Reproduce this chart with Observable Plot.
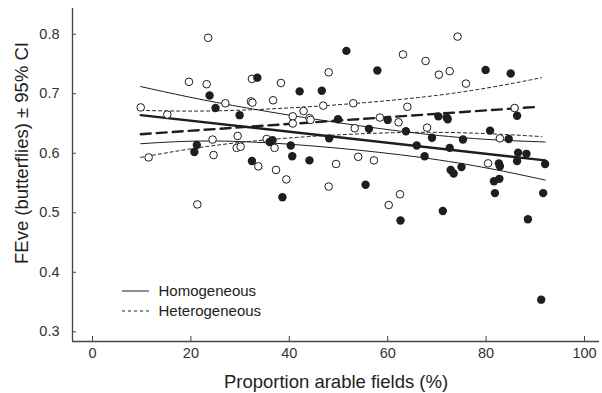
<!DOCTYPE html>
<html><head><meta charset="utf-8">
<script src="https://cdn.jsdelivr.net/npm/d3@7"></script>
<script src="https://cdn.jsdelivr.net/npm/@observablehq/plot@0.6"></script>
<style>body{margin:0;background:#fff}</style>
</head><body><div id="chart"></div>
<script>
// Filled circles
const filledX = [33.5,23.8,25.0,29.9,21.2,20.7,32.4,51.6,57.9,42.1,46.6,49.9,60.0,56.2,63.7,48.1,65.9,36.0,36.6,40.3,40.6,44.1,38.6,55.5,62.6,79.9,85.0,70.3,72.0,72.2,86.3,80.8,69.0,75.3,84.6,72.6,67.5,86.5,88.2,86.3,92.0,82.6,82.8,72.8,73.4,75.0,81.6,82.7,81.8,91.6,71.2,88.5,91.2];
const filledY = [0.727,0.697,0.676,0.664,0.614,0.602,0.587,0.772,0.739,0.704,0.705,0.657,0.656,0.641,0.637,0.625,0.613,0.619,0.622,0.613,0.595,0.588,0.526,0.547,0.487,0.740,0.734,0.662,0.660,0.657,0.663,0.638,0.626,0.623,0.624,0.609,0.595,0.601,0.599,0.587,0.582,0.583,0.578,0.572,0.566,0.577,0.553,0.557,0.533,0.533,0.503,0.489,0.354];
// Open circles
const openX = [23.5,19.6,23.2,32.4,27.0,32.2,32.5,9.8,15.2,29.5,24.4,29.3,30.1,24.6,11.4,33.7,21.3,63.1,48.0,38.3,36.7,46.9,53.0,64.0,42.9,40.7,44.1,44.3,40.7,58.4,62.2,53.3,35.4,37.0,49.5,54.0,57.2,37.3,39.4,48.0,62.5,60.2,74.2,67.7,70.4,72.6,75.9,85.8,68.0,82.8,80.4];
const openY = [0.794,0.720,0.716,0.725,0.684,0.687,0.685,0.677,0.665,0.629,0.623,0.609,0.611,0.597,0.593,0.578,0.514,0.766,0.736,0.718,0.689,0.680,0.684,0.678,0.671,0.662,0.659,0.656,0.650,0.660,0.652,0.642,0.624,0.609,0.582,0.594,0.588,0.572,0.556,0.544,0.531,0.513,0.796,0.755,0.732,0.738,0.717,0.676,0.643,0.625,0.583];
// Fitted lines and 95% CI
const homFitX = [9.8, 92.0];
const homFitY = [0.664, 0.588];
const homCIX = [9.8, 32.1, 66.7, 92.0];
const homUpperY = [0.712, 0.675, 0.633, 0.619];
const homLowerY = [0.616, 0.619, 0.593, 0.555];
const hetFitX = [9.8, 90.6];
const hetFitY = [0.632, 0.678];
const hetUpperX = [9.8, 32.1, 66.7, 91.3];
const hetUpperY = [0.672, 0.673, 0.694, 0.727];
const hetLowerX = [9.8, 32.1, 64.6, 91.3];
const hetLowerY = [0.593, 0.620, 0.635, 0.628];
// Axes
const xTicks = [0, 20, 40, 60, 80, 100];
const yTicks = [0.3, 0.4, 0.5, 0.6, 0.7, 0.8];
const xDomain = [-4.07, 103.05];
const yDomain = [0.2837, 0.8432];
const xLabel = "Proportion arable fields (%)";
const yLabel = "FEve (butterflies) ± 95% CI";
const legendLabels = ["Homogeneous", "Heterogeneous"];

const pts = (xs, ys) => xs.map((x, i) => ({x, y: ys[i]}));
const ink = "#1e1e1e";
const axisInk = "#444";

const chart = Plot.plot({
  width: 602, height: 393,
  marginLeft: 72, marginRight: 3, marginTop: 8, marginBottom: 52,
  style: {fontFamily: "Liberation Sans, Arial, sans-serif", background: "#fff"},
  x: {domain: xDomain},
  y: {domain: yDomain},
  marks: [
    Plot.axisX({ticks: xTicks, tickSize: -5, tickPadding: 11, fontSize: 14.5, label: null, stroke: axisInk, color: "#333"}),
    Plot.axisY({ticks: yTicks, tickSize: -4, tickPadding: 17, fontSize: 14.5, label: null, tickFormat: d3.format(".1f"), stroke: axisInk, color: "#333"}),
    Plot.ruleX([xDomain[0]], {stroke: axisInk, strokeWidth: 1.3}),
    Plot.ruleY([yDomain[0]], {stroke: axisInk, strokeWidth: 1.3}),
    Plot.line(pts(homCIX, homUpperY), {x: "x", y: "y", stroke: ink, strokeWidth: 1, curve: "natural"}),
    Plot.line(pts(homCIX, homLowerY), {x: "x", y: "y", stroke: ink, strokeWidth: 1, curve: "natural"}),
    Plot.line(pts(hetUpperX, hetUpperY), {x: "x", y: "y", stroke: ink, strokeWidth: 1, strokeDasharray: "3,3", curve: "natural"}),
    Plot.line(pts(hetLowerX, hetLowerY), {x: "x", y: "y", stroke: ink, strokeWidth: 1, strokeDasharray: "3,3", curve: "natural"}),
    Plot.line(pts(homFitX, homFitY), {x: "x", y: "y", stroke: ink, strokeWidth: 2.4}),
    Plot.line(pts(hetFitX, hetFitY), {x: "x", y: "y", stroke: ink, strokeWidth: 2.4, strokeDasharray: "10,6"}),
    Plot.dot(pts(openX, openY), {x: "x", y: "y", r: 3.8, stroke: ink, strokeWidth: 1, fill: "white"}),
    Plot.dot(pts(filledX, filledY), {x: "x", y: "y", r: 4.2, fill: ink, stroke: "none"}),
    // legend
    Plot.text([legendLabels[0]], {frameAnchor: "bottom-left", dx: 86, dy: -50, textAnchor: "start", lineAnchor: "middle", fontSize: 15, fill: "#222"}),
    Plot.text([legendLabels[1]], {frameAnchor: "bottom-left", dx: 86, dy: -30, textAnchor: "start", lineAnchor: "middle", fontSize: 15, fill: "#222"}),
    Plot.text([xLabel], {frameAnchor: "bottom", dy: 41, lineAnchor: "middle", fontSize: 18.5, fill: "#222"}),
    Plot.text([yLabel], {frameAnchor: "left", dx: -50, dy: -22, rotate: -90, textAnchor: "middle", lineAnchor: "middle", fontSize: 18.5, fill: "#222"})
  ]
});
document.getElementById("chart").appendChild(chart);

// legend line samples (styling only)
const svg = d3.select(chart);
const fx = 72, fy = 341;
[["none", 0], ["3,3", 1]].forEach(([dash, i]) => {
  svg.append("line")
    .attr("x1", fx + 50).attr("x2", fx + 77)
    .attr("y1", fy - 50 + i * 20).attr("y2", fy - 50 + i * 20)
    .attr("stroke", ink).attr("stroke-width", 1).attr("stroke-dasharray", dash);
});
</script>
</body></html>
